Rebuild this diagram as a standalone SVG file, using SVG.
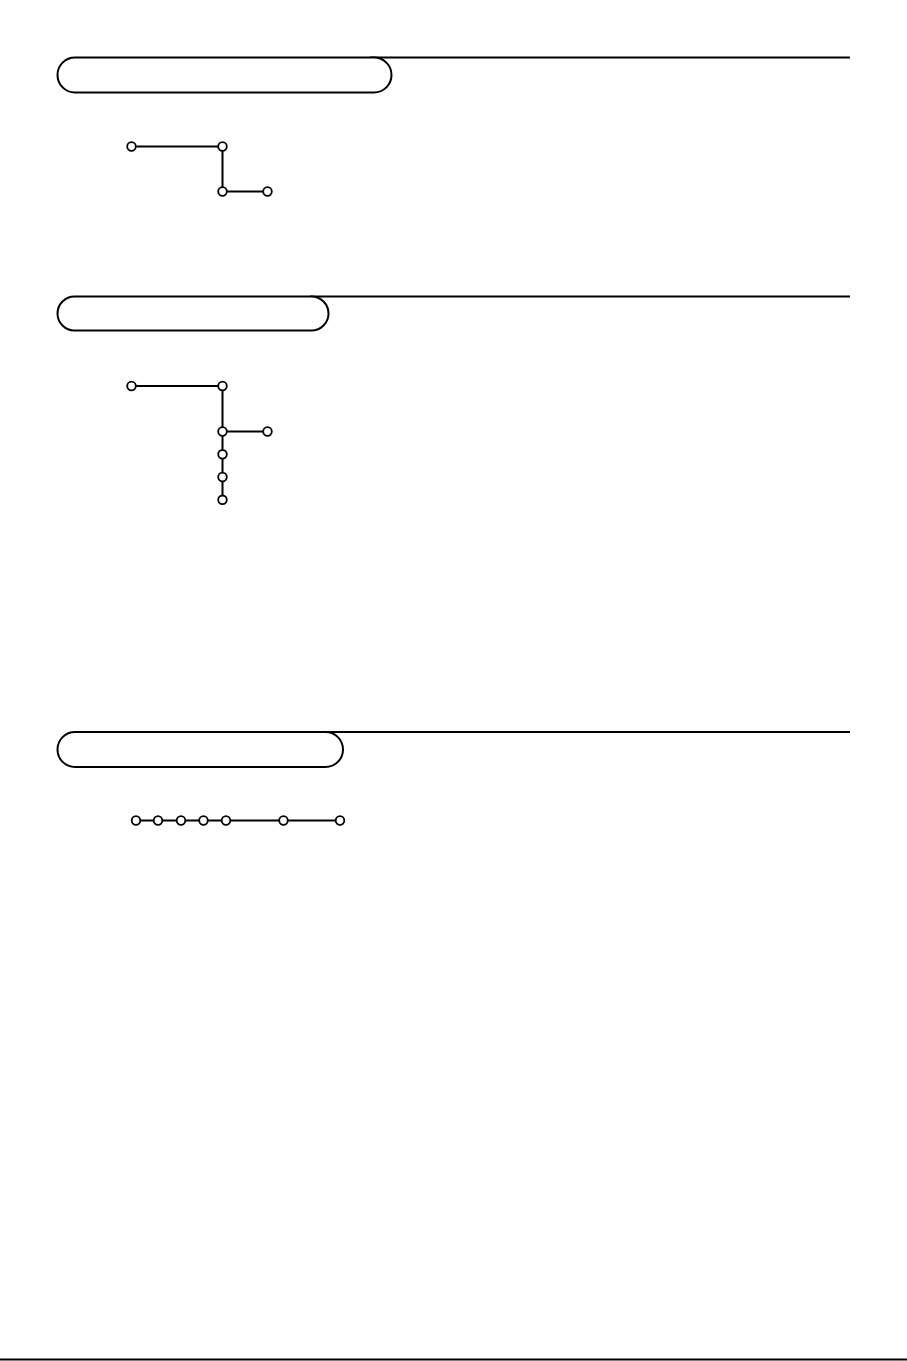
<svg xmlns="http://www.w3.org/2000/svg" width="907" height="1361" viewBox="0 0 907 1361">
<style>
.rule{stroke:#000;stroke-width:2;fill:none}
.pill{stroke:#000;stroke-width:2;fill:#fff}
.edge{stroke:#000;stroke-width:2;fill:none}
.node{stroke:#000;stroke-width:1.8;fill:#fff}
</style>
<rect width="907" height="1361" fill="#fff"/>
<g id="header1">
<line class="rule" x1="370" y1="57.5" x2="850" y2="57.5"/>
<rect class="pill" x="57.5" y="57.5" width="334" height="35" rx="17.5"/>
</g>
<g id="header2">
<line class="rule" x1="310" y1="296.5" x2="850" y2="296.5"/>
<rect class="pill" x="57.5" y="296.5" width="271" height="34" rx="17"/>
</g>
<g id="header3">
<line class="rule" x1="127" y1="732" x2="850" y2="732"/>
<rect class="pill" x="57.5" y="732" width="285.5" height="35" rx="17.5"/>
</g>
<g id="connectors">
<path class="edge" d="M131.5,146.5 H222.5 V191.5 H267.5"/>
<path class="edge" d="M131.5,386 H222.5 V500 M222.5,431.5 H267.5"/>
<path class="edge" d="M136,820.5 H340"/>
</g>
<g id="tree1">
<circle id="n1a" class="node" cx="131.5" cy="146.5" r="4.3"/>
<circle id="n1b" class="node" cx="222.5" cy="146.5" r="4.3"/>
<circle id="n1c" class="node" cx="222.5" cy="191.5" r="4.3"/>
<circle id="n1d" class="node" cx="267.5" cy="191.5" r="4.3"/>
</g>
<g id="tree2">
<circle id="n2a" class="node" cx="131.5" cy="386" r="4.3"/>
<circle id="n2b" class="node" cx="222.5" cy="386" r="4.3"/>
<circle id="n2c" class="node" cx="222.5" cy="431.5" r="4.3"/>
<circle id="n2d" class="node" cx="267.5" cy="431.5" r="4.3"/>
<circle id="n2e" class="node" cx="222.5" cy="454.3" r="4.3"/>
<circle id="n2f" class="node" cx="222.5" cy="477" r="4.3"/>
<circle id="n2g" class="node" cx="222.5" cy="499.8" r="4.3"/>
</g>
<g id="tree3">
<circle id="n3a" class="node" cx="136" cy="820.5" r="4.3"/>
<circle id="n3b" class="node" cx="158" cy="820.5" r="4.3"/>
<circle id="n3c" class="node" cx="181" cy="820.5" r="4.3"/>
<circle id="n3d" class="node" cx="203.5" cy="820.5" r="4.3"/>
<circle id="n3e" class="node" cx="226" cy="820.5" r="4.3"/>
<circle id="n3f" class="node" cx="283.5" cy="820.5" r="4.3"/>
<circle id="n3g" class="node" cx="340" cy="820.5" r="4.3"/>
</g>
<g id="footer">
<line class="rule" x1="0" y1="1359.5" x2="907" y2="1359.5"/>
</g>
</svg>
